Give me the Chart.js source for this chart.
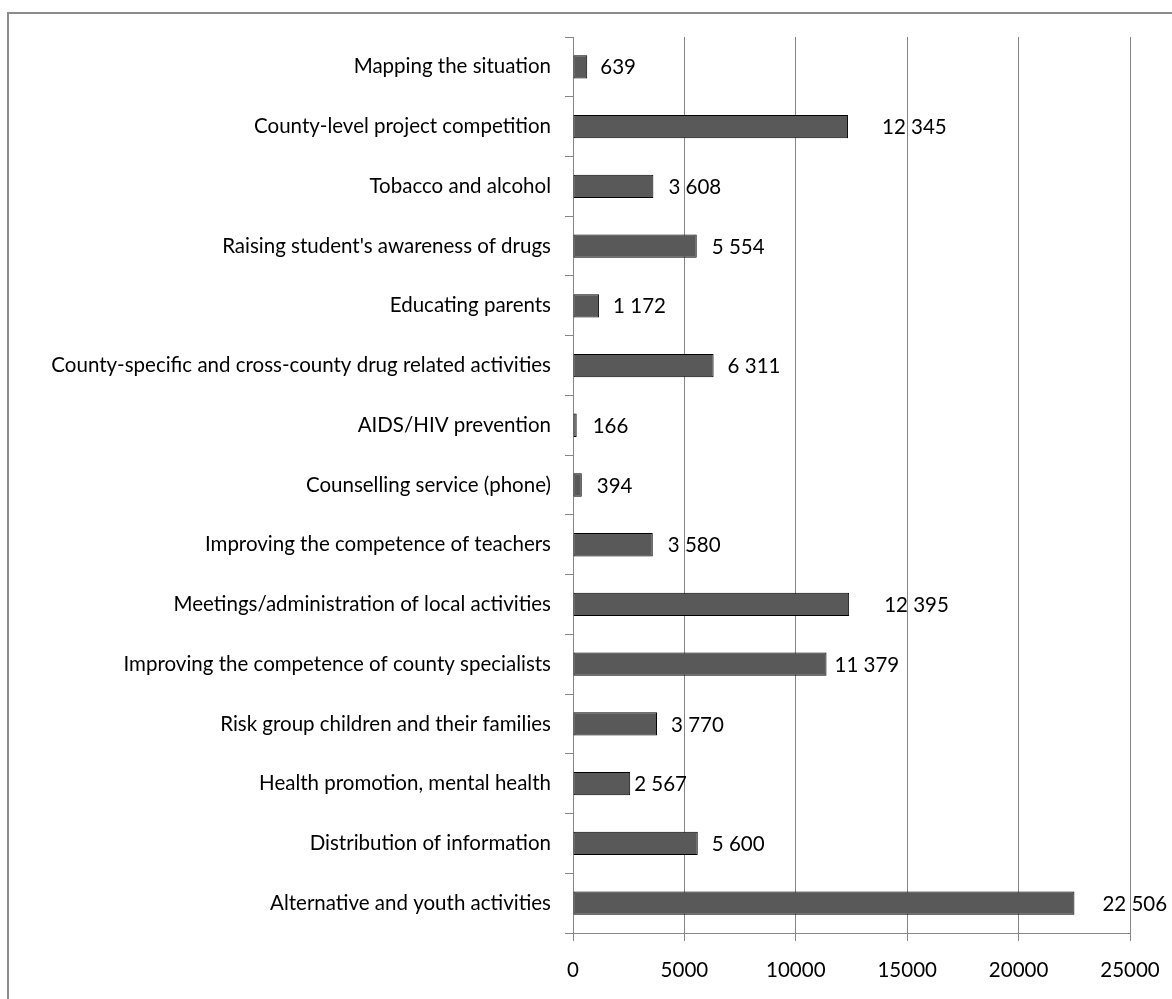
<!DOCTYPE html>
<html lang="en">
<head>
  <meta charset="UTF-8">
  <title>Expenditure by activity</title>
  <script src="https://cdn.jsdelivr.net/npm/chart.js"></script>
  <style>
    body {
      margin: 0;
      background: #fff;
      overflow: hidden;
    }
    #wrap {
      position: relative;
      width: 1172px;
      height: 999px;
    }
    #frame {
      position: absolute;
      left: 7px;
      top: 12px;
      width: 1200px;
      height: 1100px;
      border: 2px solid #8c8c8c;
      box-sizing: border-box;
      pointer-events: none;
    }
    canvas {
      position: absolute;
      left: 0;
      top: 0;
    }
  </style>
</head>
<body>
<div id="wrap">
  <canvas id="grafico" width="1172" height="999"></canvas>
  <div id="frame"></div>
</div>

<script>
  const categories = [
    'Mapping the situation',
    'County-level project competition',
    'Tobacco and alcohol',
    "Raising student's awareness of drugs",
    'Educating parents',
    'County-specific and cross-county drug related activities',
    'AIDS/HIV prevention',
    'Counselling service (phone)',
    'Improving the competence of teachers',
    'Meetings/administration of local activities',
    'Improving the competence of county specialists',
    'Risk group children and their families',
    'Health promotion, mental health',
    'Distribution of information',
    'Alternative and youth activities'
  ];
  const values = [639, 12345, 3608, 5554, 1172, 6311, 166, 394, 3580, 12395, 11379, 3770, 2567, 5600, 22506];
  const xTicks = [0, 5000, 10000, 15000, 20000, 25000];

  // gap in px between the end of each bar and its value label
  const labelGap = [13, 34, 15, 15, 14, 14, 16, 15, 15, 35, 8, 14, 4, 14, 28];

  const FONT = 'Lato, "Liberation Sans", sans-serif';
  const FONT_SIZE = 20.5;
  const GRID = '#868686';

  function spaced(v) {
    return String(v).replace(/\B(?=(\d{3})+(?!\d))/g, ' ');
  }

  // value labels to the right of each bar
  const valueLabels = {
    id: 'valueLabels',
    afterDatasetsDraw(chart) {
      const c = chart.ctx;
      const meta = chart.getDatasetMeta(0);
      c.save();
      c.font = FONT_SIZE + 'px ' + FONT;
      c.fillStyle = '#000';
      c.textAlign = 'left';
      c.textBaseline = 'middle';
      meta.data.forEach((bar, i) => {
        c.fillText(spaced(values[i]), bar.x + labelGap[i], bar.y + 1);
      });
      c.restore();
    }
  };

  const ctx = document.getElementById('grafico').getContext('2d');

  new Chart(ctx, {
    type: 'bar',
    data: {
      labels: categories,
      datasets: [{
        data: values,
        backgroundColor: '#595959',
        borderColor: '#000',
        borderWidth: 1,
        borderSkipped: false,
        categoryPercentage: 1,
        barPercentage: 0.39
      }]
    },
    options: {
      indexAxis: 'y',
      responsive: false,
      animation: false,
      layout: {
        padding: { top: 37, right: 42, bottom: 0, left: 0 }
      },
      plugins: {
        legend: { display: false },
        tooltip: { enabled: false }
      },
      scales: {
        x: {
          min: 0,
          max: 25000,
          afterBuildTicks(scale) {
            scale.ticks = xTicks.map(v => ({ value: v }));
          },
          afterFit(scale) {
            scale.height = 66;
            scale.paddingLeft = 0;
            scale.paddingRight = 0;
          },
          grid: {
            color: GRID,
            lineWidth: 1,
            tickLength: 8
          },
          border: { color: GRID, width: 1 },
          ticks: {
            color: '#000',
            padding: 17,
            maxRotation: 0,
            font: { family: FONT, size: FONT_SIZE },
            callback: v => String(v)
          }
        },
        y: {
          afterFit(scale) {
            scale.width = 573;
          },
          grid: {
            offset: true,
            drawOnChartArea: false,
            color: GRID,
            tickLength: 8
          },
          border: { color: GRID, width: 1 },
          ticks: {
            color: '#000',
            padding: 14,
            autoSkip: false,
            font: { family: FONT, size: FONT_SIZE }
          }
        }
      }
    },
    plugins: [valueLabels]
  });
</script>

</body>
</html>
